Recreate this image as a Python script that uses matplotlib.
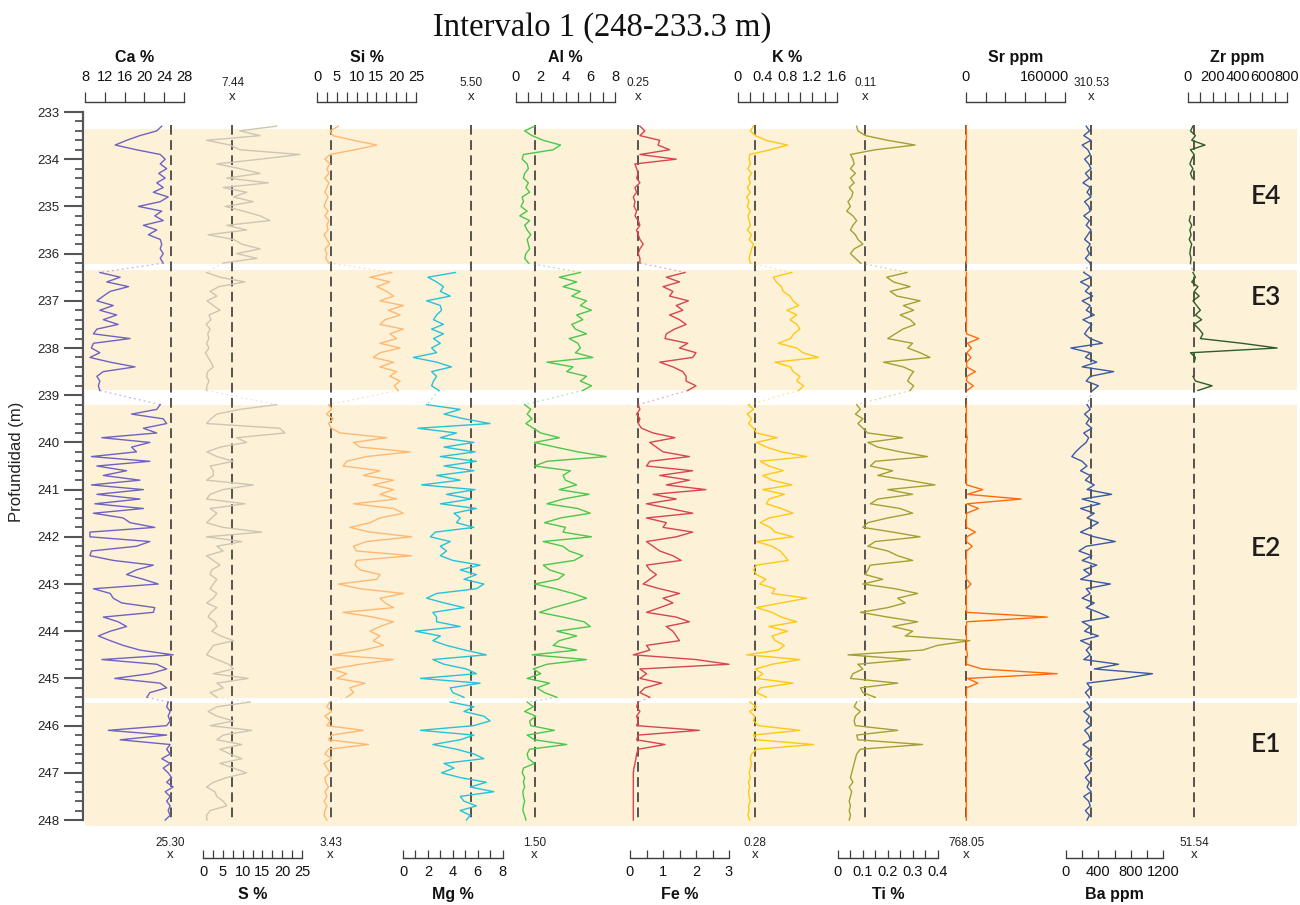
import numpy as np
import matplotlib.pyplot as plt
from matplotlib import transforms
from matplotlib.ticker import FuncFormatter, MultipleLocator

plt.rcParams['font.family'] = ['Liberation Sans', 'DejaVu Sans']

nan = np.nan

# XRF scan intervals, sampled every 10 cm (unit, top, base) in m
intervals = [("E4", 233.3, 236.2), ("E3", 236.4, 238.9),
             ("E2", 239.2, 245.4), ("E1", 245.5, 248.0)]
# shaded extent of each unit
units = [("E4", 233.36, 236.22), ("E3", 236.35, 238.9),
         ("E2", 239.21, 245.42), ("E1", 245.52, 248.12)]

# element curves, one line block per unit (E4 / E3 / E2 / E1)
ca = [23.5, 22.5, 19.1, 16.4, 14.1, 18.4, 23.2, 24.2, 23.2, 24.5,
      22.9, 24.2, 22.5, 23.8, 21.8, 24.8, 23.2, 18.8, 23.5, 22.1,
      23.8, 19.8, 22.5, 20.8, 23.2, 23.5, 23.2, 23.8, 23.2, 23.8,
      11.0, 15.1, 12.4, 16.8, 13.1, 11.7, 10.4, 13.7, 11.0, 14.4,
      11.7, 14.7, 10.4, 9.7, 17.1, 9.7, 9.3, 11.0, 9.0, 13.1,
      18.1, 11.7, 10.4, 11.0, 10.7, 11.0,
      23.2, 22.5, 17.4, 23.8, 24.5, 19.8, 22.5, 11.4, 21.1, 17.4,
      18.4, 9.3, 21.1, 10.4, 16.4, 11.7, 19.1, 9.3, 19.8, 10.4,
      19.1, 10.0, 19.8, 9.7, 15.7, 17.1, 22.1, 9.0, 9.0, 21.1,
      18.4, 9.3, 9.0, 13.7, 21.8, 18.4, 16.4, 19.8, 22.8, 9.7,
      13.1, 13.7, 15.4, 22.1, 21.8, 11.7, 14.7, 16.4, 13.1, 10.7,
      13.1, 15.7, 19.1, 25.8, 11.4, 22.5, 24.5, 21.1, 14.0, 23.2,
      24.5, 21.1, 20.5,
      24.8, 24.5, 25.2, 24.8, 25.2, 24.5, 12.7, 24.5, 15.1, 25.2,
      24.5, 25.2, 23.5, 25.2, 23.8, 24.8, 25.5, 24.5, 25.8, 24.2,
      25.2, 24.5, 25.2, 24.8, 25.2, 24.2]

s = [18.6, 9.3, 14.4, 0.9, 6.8, 9.3, 24.5, 14.4, 3.5, 9.3,
     14.4, 6.0, 16.5, 5.1, 11.0, 7.7, 12.7, 5.6, 10.2, 14.4,
     16.9, 6.0, 11.0, 1.3, 7.7, 9.8, 14.4, 8.5, 13.6, 5.1,
     0.9, 4.3, 10.6, 4.0, 1.8, 3.5, 1.0, 2.6, 4.3, 1.5,
     2.0, 0.8, 1.8, 1.2, 1.5, 0.9, 1.5, 0.6, 1.3, 2.0,
     2.6, 1.2, 0.9, 1.5, 1.0, 0.9,
     18.6, 9.3, 3.5, 2.0, 0.9, 19.4, 20.7, 8.5, 11.0, 4.3,
     1.0, 3.5, 7.7, 1.8, 2.6, 2.6, 0.9, 12.7, 5.0, 1.8,
     0.9, 10.6, 1.8, 3.5, 2.2, 0.9, 5.0, 14.8, 0.9, 9.8,
     3.5, 5.1, 0.9, 2.6, 4.3, 2.2, 1.8, 3.5, 2.6, 1.8,
     3.5, 2.6, 0.9, 3.5, 2.0, 1.3, 3.0, 3.5, 2.2, 4.5,
     7.7, 2.6, 1.8, 0.9, 3.5, 6.5, 7.7, 2.6, 11.4, 3.5,
     5.1, 1.8, 3.5,
     11.9, 3.5, 1.3, 3.5, 7.7, 1.8, 12.3, 5.1, 3.5, 9.8,
     4.3, 6.8, 9.8, 4.3, 7.7, 11.0, 6.0, 2.6, 0.9, 3.0,
     3.5, 5.1, 6.0, 1.8, 0.9, 1.0]

si = [5.4, 3.3, 4.0, 9.2, 15.1, 9.5, 3.3, 2.0, 3.3, 2.5,
      3.0, 2.0, 3.0, 2.5, 2.0, 2.8, 2.2, 1.8, 2.8, 2.0,
      3.0, 2.5, 2.8, 1.8, 2.5, 3.2, 2.0, 2.5, 2.2, 3.0,
      18.9, 13.4, 18.4, 15.1, 17.6, 19.3, 15.9, 21.8, 18.0, 21.0,
      17.2, 15.9, 21.8, 18.4, 20.1, 15.9, 21.0, 15.9, 14.2, 19.3,
      15.9, 20.1, 18.4, 21.0, 19.5, 20.5,
      2.9, 3.7, 2.4, 4.1, 2.9, 3.7, 5.8, 17.6, 9.2, 10.9,
      23.5, 12.5, 7.5, 6.6, 15.9, 11.7, 19.3, 14.2, 19.3, 15.9,
      20.1, 9.2, 19.3, 21.8, 15.9, 13.4, 8.3, 13.4, 23.9, 12.5,
      9.2, 10.0, 23.9, 10.0, 9.6, 10.9, 15.9, 15.1, 5.4, 10.9,
      21.8, 15.9, 17.2, 19.3, 6.6, 14.2, 19.3, 15.9, 13.4, 15.9,
      14.2, 16.8, 11.7, 4.1, 19.3, 10.9, 3.7, 7.5, 5.0, 12.1,
      8.3, 9.2, 7.5,
      3.2, 2.5, 3.7, 2.0, 3.3, 2.5, 11.7, 3.7, 2.9, 13.0,
      2.9, 2.0, 3.7, 1.8, 2.5, 3.3, 2.0, 2.2, 2.9, 2.0,
      2.5, 1.8, 2.5, 2.0, 1.8, 2.5]

mg = [nan] * 30 + [
      4.2, 2.0, 2.7, 3.25, 3.0, 3.8, 1.9, 3.0, 3.1, 2.7,
      2.45, 3.25, 2.3, 3.25, 2.45, 3.0, 2.3, 2.7, 0.83, 2.7,
      3.9, 2.3, 2.7, 2.45, 2.3, 2.9,
      1.9, 4.6, 3.3, 4.9, 7.0, 1.2, 4.3, 3.0, 5.7, 3.3,
      5.8, 3.0, 5.9, 3.3, 5.7, 2.7, 4.6, 1.5, 5.8, 3.5,
      5.5, 3.0, 5.9, 4.1, 4.6, 4.3, 5.7, 2.6, 2.2, 3.8,
      3.0, 3.5, 3.0, 4.0, 6.2, 4.6, 5.9, 4.9, 6.5, 5.9,
      2.7, 1.9, 3.3, 4.9, 2.4, 2.7, 2.7, 4.6, 1.0, 3.0,
      2.4, 3.5, 5.0, 6.7, 2.4, 3.3, 5.1, 5.9, 1.4, 6.2,
      3.8, 4.0, 4.9,
      3.8, 5.7, 4.9, 6.5, 7.0, 5.7, 1.4, 5.7, 4.6, 2.4,
      4.3, 5.7, 6.5, 3.3, 4.1, 3.1, 4.6, 6.7, 5.4, 7.3,
      4.6, 4.9, 5.9, 4.6, 5.4, 5.1]

al = [1.5, 0.7, 1.3, 2.2, 3.6, 3.0, 0.6, 0.5, 0.9, 1.0,
      0.7, 0.6, 1.0, 0.8, 1.1, 0.5, 0.6, 0.4, 0.9, 0.3,
      1.1, 0.7, 0.9, 1.2, 0.9, 1.0, 1.1, 0.8, 0.7, 1.0,
      5.2, 3.5, 4.9, 3.8, 5.2, 4.5, 5.7, 5.2, 6.1, 4.9,
      5.4, 4.5, 4.8, 5.7, 4.3, 5.0, 5.2, 4.8, 6.2, 2.5,
      4.6, 4.1, 5.7, 5.2, 6.1, 5.4,
      0.7, 1.2, 0.9, 1.3, 0.8, 1.4, 2.0, 3.5, 1.5, 3.2,
      5.0, 7.3, 2.5, 1.5, 4.4, 3.8, 4.0, 4.9, 3.5, 5.9,
      3.8, 2.5, 5.0, 6.0, 3.6, 2.3, 4.0, 3.8, 6.1, 2.2,
      3.8, 4.3, 5.4, 4.7, 2.2, 2.7, 3.9, 3.4, 1.5, 3.2,
      4.6, 5.7, 4.4, 3.0, 1.9, 3.8, 5.5, 6.0, 3.3, 4.9,
      3.5, 3.0, 4.9, 1.3, 5.7, 2.5, 1.4, 2.0, 0.9, 2.7,
      1.7, 2.3, 3.3,
      0.9, 1.4, 0.7, 1.6, 1.1, 1.2, 3.1, 0.9, 1.5, 4.1,
      1.1, 0.9, 1.0, 1.5, 0.6, 0.5, 0.7, 0.6, 0.7, 0.55,
      0.6, 0.7, 0.6, 0.55, 0.7, 0.8]

fe = [0.3, 0.45, 0.3, 0.9, 0.85, 1.2, 0.3, 1.4, 0.15, 0.2,
      0.25, 0.2, 0.3, 0.15, 0.2, 0.1, 0.15, 0.12, 0.2, 0.15,
      0.25, 0.3, 0.2, 0.25, 0.3, 0.4, 0.3, 0.25, 0.3, 0.3,
      1.67, 1.1, 1.5, 1.0, 1.3, 1.2, 1.77, 1.4, 1.6, 1.2,
      1.5, 1.7, 1.35, 1.1, 1.06, 1.75, 1.5, 2.0, 1.9, 0.9,
      1.3, 1.6, 1.7, 1.7, 2.0, 1.75,
      0.25, 0.3, 0.2, 0.3, 0.25, 0.35, 0.7, 1.36, 0.6, 0.8,
      1.0, 1.8, 0.6, 0.5, 1.9, 0.9, 1.8, 1.1, 2.3, 0.7,
      1.4, 0.5, 1.2, 1.9, 0.5, 1.1, 1.0, 1.9, 1.4, 0.5,
      0.7, 0.9, 1.3, 1.55, 0.5, 0.6, 0.8, 0.6, 0.4, 0.9,
      1.5, 1.0, 1.3, 0.9, 0.5, 1.4, 1.8, 1.1, 1.3, 1.4,
      1.5, 0.5, 0.6, 0.1, 2.0, 3.0, 0.3, 0.5, 0.3, 0.96,
      0.45, 0.3, 0.6,
      0.25, 0.2, 0.3, 0.2, 0.25, 0.2, 2.1, 0.25, 0.2, 1.06,
      0.25, 0.2, 0.18, 0.15, 0.12, 0.1, 0.1, 0.1, 0.1, 0.1,
      0.1, 0.1, 0.1, 0.1, 0.1, 0.1]

k = [0.25, 0.2, 0.28, 0.45, 0.8, 0.52, 0.19, 0.18, 0.2, 0.16,
     0.22, 0.17, 0.2, 0.15, 0.2, 0.14, 0.18, 0.15, 0.2, 0.16,
     0.18, 0.2, 0.15, 0.22, 0.18, 0.25, 0.22, 0.2, 0.18, 0.2,
     0.87, 0.57, 0.62, 0.7, 0.73, 0.84, 0.89, 0.98, 0.79, 0.95,
     0.84, 0.95, 1.0, 0.9, 0.85, 0.65, 0.95, 1.05, 1.3, 0.6,
     0.85, 0.89, 1.0, 0.95, 1.06, 0.98,
     0.17, 0.25, 0.15, 0.22, 0.17, 0.25, 0.3, 0.63, 0.3, 0.46,
     0.7, 1.11, 0.36, 0.5, 0.73, 0.4, 0.55, 0.87, 0.4, 0.75,
     0.5, 0.46, 0.7, 0.89, 0.5, 0.36, 0.52, 0.6, 0.89, 0.3,
     0.55, 0.68, 0.75, 0.81, 0.3, 0.25, 0.3, 0.45, 0.35, 0.6,
     0.55, 1.11, 0.7, 0.3, 0.55, 0.7, 0.95, 0.5, 0.8, 0.55,
     0.6, 0.75, 0.65, 0.14, 1.0, 0.55, 0.28, 0.4, 0.3, 0.89,
     0.36, 0.3, 0.46,
     0.19, 0.3, 0.19, 0.27, 0.25, 0.33, 1.0, 0.25, 0.3, 1.22,
     0.3, 0.22, 0.2, 0.22, 0.2, 0.18, 0.2, 0.17, 0.19, 0.17,
     0.18, 0.2, 0.17, 0.18, 0.16, 0.19]

ti = [0.075, 0.08, 0.11, 0.2, 0.31, 0.15, 0.05, 0.06, 0.065, 0.05,
      0.07, 0.05, 0.065, 0.045, 0.06, 0.055, 0.04, 0.05, 0.035, 0.06,
      0.075, 0.06, 0.05, 0.07, 0.08, 0.1, 0.065, 0.05, 0.07, 0.09,
      0.277, 0.196, 0.223, 0.29, 0.21, 0.237, 0.33, 0.263, 0.304, 0.25,
      0.29, 0.31, 0.26, 0.23, 0.2, 0.3, 0.28, 0.33, 0.37, 0.183,
      0.263, 0.304, 0.29, 0.28, 0.304, 0.29,
      0.075, 0.09, 0.07, 0.1, 0.08, 0.1, 0.12, 0.26, 0.12, 0.16,
      0.25, 0.36, 0.15, 0.13, 0.22, 0.16, 0.28, 0.39, 0.2, 0.3,
      0.16, 0.13, 0.25, 0.3, 0.2, 0.12, 0.1, 0.22, 0.33, 0.15,
      0.12, 0.2, 0.24, 0.3, 0.13, 0.12, 0.11, 0.18, 0.1, 0.23,
      0.32, 0.24, 0.27, 0.2, 0.09, 0.2, 0.32, 0.22, 0.3, 0.27,
      0.53, 0.4, 0.34, 0.04, 0.29, 0.08, 0.1, 0.06, 0.05, 0.24,
      0.09, 0.1, 0.15,
      0.075, 0.065, 0.09, 0.07, 0.065, 0.07, 0.24, 0.075, 0.08, 0.34,
      0.09, 0.075, 0.07, 0.065, 0.06, 0.055, 0.05, 0.06, 0.045, 0.055,
      0.05, 0.045, 0.05, 0.045, 0.05, 0.045]

sr = [650, 700, 820, 600, 750, 680, 900, 620, 700, 800,
      650, 720, 600, 780, 700, 640, 820, 700, 660, 750,
      600, 720, 800, 680, 650, 740, 700, 620, 760, 700,
      800, 700, 900, 650, 750, 850, 700, 900, 800, 700,
      950, 800, 700, 1200, 26000, 3000, 11000, 1500, 10000, 1500,
      1200, 19000, 2000, 1000, 15000, 2000,
      900, 700, 800, 650, 750, 900, 800, 2500, 900, 700,
      800, 650, 700, 800, 750, 700, 900, 1200, 34000, 3000,
      112000, 2000, 25000, 1500, 900, 800, 1000, 19000, 1500, 1000,
      12500, 1200, 800, 700, 900, 800, 700, 1000, 10000, 1000,
      800, 700, 900, 800, 1200, 165000, 1500, 900, 800, 700,
      900, 800, 1000, 3000, 900, 1200, 32500, 185000, 3000, 24000,
      1200, 900, 800,
      700, 650, 720, 680, 750, 700, 800, 650, 700, 720,
      680, 700, 650, 750, 700, 680, 720, 700, 650, 700,
      720, 680, 700, 750, 680, 700]

ba = [250, 290, 220, 310, 200, 270, 300, 230, 280, 310,
      240, 290, 210, 300, 260, 310, 230, 280, 300, 220,
      290, 250, 310, 270, 230, 300, 260, 290, 240, 300,
      220, 310, 180, 290, 240, 330, 200, 300, 250, 350,
      210, 320, 270, 230, 300, 450, 60, 300, 240, 380,
      200, 590, 300, 250, 400, 330,
      260, 300, 230, 290, 250, 320, 220, 280, 250, 180,
      120, 72, 200, 260, 180, 300, 240, 350, 260, 565,
      200, 420, 180, 350, 260, 400, 300, 180, 350, 610,
      250, 160, 320, 200, 380, 220, 300, 180, 550, 250,
      300, 200, 350, 250, 400, 530, 200, 300, 230, 400,
      180, 310, 250, 300, 220, 650, 350, 1070, 730, 260,
      300, 240, 290,
      260, 300, 220, 290, 250, 310, 230, 280, 300, 210,
      290, 250, 320, 230, 270, 300, 240, 290, 260, 310,
      220, 280, 300, 240, 290, 260]

zr = [40, 20, 60, 30, 137, 20, 50, 30, 15, 40,
      20, 35, nan, nan, nan, nan, nan, nan, nan, 20,
      10, 30, 15, 25, 10, 30, 20, 15, 25, 20,
      40, 60, 30, 80, 50, 90, 40, 70, 100, 60,
      110, 50, 90, 120, 100, 436, 720, 20, 60, 50,
      nan, nan, 40, 60, 195, 80] + [nan] * 89

# (label, values, colour, mean, scale range, scale left px, scale side,
#  tick step, label step, scale width px)
tracks = [
    ("Ca %", ca, "#6e62c2", 25.30, (8, 28), 85, "top", 4, 4, 99),
    ("S %", s, "#cdc6b4", 7.44, (0, 25), 203, "bottom", 2.5, 5, 99),
    ("Si %", si, "#ffb872", 3.43, (0, 25), 317, "top", 2.5, 5, 99),
    ("Mg %", mg, "#25c2da", 5.50, (0, 8), 403, "bottom", 1, 2, 99.5),
    ("Al %", al, "#4cc64c", 1.50, (0, 8), 516, "top", 1, 2, 99),
    ("Fe %", fe, "#d84451", 0.25, (0, 3), 630, "bottom", 0.5, 1, 99),
    ("K %", k, "#ffc812", 0.28, (0, 1.6), 738, "top", 0.2, 0.4, 99),
    ("Ti %", ti, "#a4a034", 0.11, (0, 0.4), 838, "bottom", 0.05, 0.1, 99.5),
    ("Sr ppm", sr, "#ff6b0c", 768.05, (0, 200000), 966, "top", 40000, 160000, 98.5),
    ("Ba ppm", ba, "#3a5aa4", 310.53, (0, 1200), 1066, "bottom", 200, 400, 97),
    ("Zr ppm", zr, "#2d5c2e", 51.54, (0, 800), 1188, "top", 100, 200, 99),
]

unit_label_depth = {"E4": 234.8, "E3": 236.92, "E2": 242.24, "E1": 246.41}

W, H = 1300, 905
L, R, T, B = 83, 1297, 112, 825.7
band_color = "#fdf2d7"
mean_color = "#57524c"
axis_color = "#3c3c3c"


def px_rect(x0, y0, w, h):
    return [x0 / W, 1 - (y0 + h) / H, w / W, h / H]


def fig_y(y):
    return 1 - y / H


blocks = [np.round(np.arange(top, base + 0.05, 0.1), 1) for _, top, base in intervals]
depth = np.concatenate(blocks)
seg = np.concatenate([np.full(len(b), i) for i, b in enumerate(blocks)])

fig = plt.figure(figsize=(13, 9.05), dpi=100)

# depth axis with the unit bands
ax = fig.add_axes(px_rect(L, T, R - L, B - T))
ax.set_ylim(248.12, 233)
ax.set_xlim(0, 1)
for name, top, base in units:
    ax.axhspan(top, base, xmin=0.0015, xmax=1, color=band_color, lw=0, zorder=0)
    ax.text(0.9745, unit_label_depth[name], name, transform=ax.get_yaxis_transform(),
            ha="center", va="center", fontsize=19, family="Lato",
            fontweight="semibold", color="#1e1e1e")
for side in ("top", "right", "bottom"):
    ax.spines[side].set_visible(False)
ax.spines["left"].set_bounds(233, 248)
ax.spines["left"].set_color("#555555")
ax.spines["left"].set_linewidth(1.6)
ax.set_xticks([])
ax.set_yticks(np.arange(233, 249))
ax.yaxis.set_minor_locator(MultipleLocator(0.2))
ax.tick_params(axis="y", which="major", length=14, width=1.5, color="#555555",
               labelsize=9.5, pad=3, labelcolor="#222222")
ax.tick_params(axis="y", which="minor", length=5.5, width=1.3, color="#555555")

fmt = FuncFormatter(lambda v, p: f"{v:g}")

for label, vals, color, mean, (lo, hi), x0, side, step, lstep, w in tracks:
    vals = np.asarray(vals, dtype=float)
    kpx = (hi - lo) / w

    # curve overlay sharing the depth axis
    tax = fig.add_axes(px_rect(L, T, R - L, B - T), sharey=ax)
    tax.set_xlim(lo - (x0 - L) * kpx, lo + (R - x0) * kpx)
    tax.axis("off")
    tax.patch.set_visible(False)

    tax.plot([mean, mean], [233.28, 248.0], color=mean_color, lw=1.4,
             dashes=(5, 2.8), zorder=1)
    for i in range(len(blocks)):
        m = seg == i
        tax.plot(vals[m], depth[m], color=color, lw=1.0, zorder=2)
    # faint links across the gaps between units
    for i in range(len(blocks) - 1):
        a = np.where(seg == i)[0][-1]
        b = np.where(seg == i + 1)[0][0]
        if np.isfinite(vals[a]) and np.isfinite(vals[b]):
            tax.plot([vals[a], vals[b]], [depth[a], depth[b]], color=color,
                     lw=0.9, ls=(0, (1.5, 2.5)), alpha=0.45, zorder=2)

    # mean value marker on the opposite side of the scale
    tr = transforms.blended_transform_factory(tax.transData, fig.transFigure)
    if side == "top":
        yv, yx = 843, 855
    else:
        yv, yx = 83, 97
    tax.text(mean, fig_y(yv), f"{mean:.2f}", transform=tr, ha="center",
             va="center", fontsize=8.5, color="#222222", clip_on=False)
    tax.text(mean, fig_y(yx), "x", transform=tr, ha="center", va="center",
             fontsize=9.5, color="#222222", clip_on=False)

    # small scale bar for the element
    base_y = 102 if side == "top" else 858
    tick_len = 10 if side == "top" else 8
    sax = fig.add_axes(px_rect(x0, base_y - tick_len, w, tick_len))
    sax.set_xlim(lo, hi)
    sax.set_ylim(0, 1)
    sax.patch.set_visible(False)
    for sp in ("top", "left", "right"):
        sax.spines[sp].set_visible(False)
    sax.spines["bottom"].set_color(axis_color)
    sax.spines["bottom"].set_linewidth(1.0)
    sax.set_yticks([])
    n_all = int(round((hi - lo) / step))
    n_lab = int((hi - lo) // lstep)
    major = np.round(lo + lstep * np.arange(n_lab + 1), 6)
    minor = np.round(lo + step * np.arange(n_all + 1), 6)
    sax.set_xticks(major)
    sax.set_xticks(minor, minor=True)
    sax.xaxis.set_major_formatter(fmt)
    sax.tick_params(axis="x", which="both", direction="in", length=tick_len * 0.72,
                    width=0.9, color=axis_color, top=False, bottom=True)
    if side == "top":
        sax.tick_params(axis="x", labelbottom=False, labeltop=True, labelsize=10.5,
                        pad=6, labelcolor="#111111")
        fig.text((x0 + w / 2) / W, fig_y(57.5), label, ha="center", va="center",
                 fontsize=11.5, fontweight="bold", color="#111111")
    else:
        sax.tick_params(axis="x", labelbottom=True, labeltop=False, labelsize=10.5,
                        pad=5, labelcolor="#111111")
        fig.text((x0 + w / 2) / W, fig_y(894), label, ha="center", va="center",
                 fontsize=11.5, fontweight="bold", color="#111111")

fig.text(602 / W, fig_y(28), "Intervalo 1 (248-233.3 m)", ha="center", va="center",
         fontsize=23.5, family="Liberation Serif", color="#111111")
fig.text(17 / W, fig_y(462), "Profundidad (m)", rotation=90, ha="center",
         va="center", fontsize=12, color="#222222")

fig.savefig("out.png", dpi=100)
